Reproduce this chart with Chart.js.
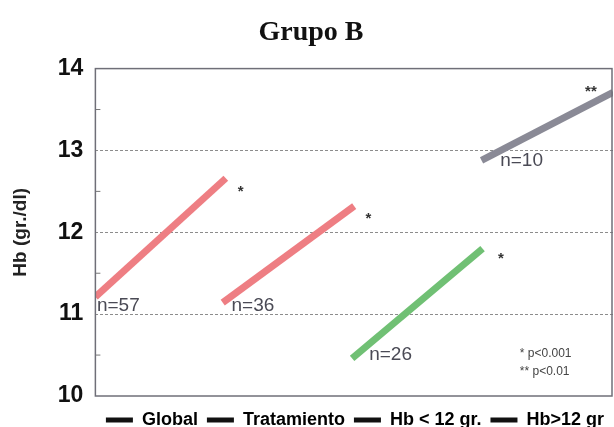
<!DOCTYPE html>
<html>
<head>
<meta charset="utf-8">
<script src="https://cdn.jsdelivr.net/npm/chart.js@4"></script>
<style>
  html, body { margin: 0; padding: 0; background: #fff; }
  #wrap { width: 614px; height: 427px; }
</style>
</head>
<body>
<div id="wrap"><canvas id="graf"></canvas></div>
<script>
// datos
const grupos = ['Global', 'Tratamiento', 'Hb < 12 gr.', 'Hb>12 gr']
const xInicio = [0, 24.6, 49.6, 74.6]
const xFin = [25.2, 50, 74.8, 100]
const hbInicio = [11.21, 11.14, 10.46, 12.88]
const hbFin = [12.66, 12.32, 11.80, 13.71]
const colores = ['#ee7e83', '#ee7e83', '#70c074', '#8a8a96']

// textos n= y asteriscos
const nTextos = ['n=57', 'n=36', 'n=26', 'n=10']
const nX = [0.3, 26.3, 52.9, 78.2]
const nY = [11.1, 11.1, 10.5, 12.87]
const astTextos = ['*', '*', '*', '**']
const astX = [27.5, 52.2, 77.8, 94.6]
const astY = [12.5, 12.17, 11.68, 13.72]
const pTextos = ['* p<0.001', '** p<0.01']
const pX = [82, 82]
const pY = [10.52, 10.3]

let ctx = document.getElementById('graf')

const datasets = grupos.map((g, i) => ({
  label: g,
  data: [{x: xInicio[i], y: hbInicio[i]}, {x: xFin[i], y: hbFin[i]}],
  borderColor: colores[i],
  backgroundColor: colores[i],
  borderWidth: 7,
  pointRadius: 0,
  borderCapStyle: 'butt'
}))

const anotaciones = {
  id: 'anotaciones',
  afterLayout(chart) {
    // bajar un poco la leyenda
    chart.legend.top += 6
    chart.legend.bottom += 6
  },
  afterDraw(chart) {
    const c = chart.ctx
    const xs = chart.scales.x
    const ys = chart.scales.y
    const area = chart.chartArea
    c.save()
    // medios ticks en el eje
    c.strokeStyle = '#777'
    c.lineWidth = 1
    for (let v = 10.5; v < 14; v += 1) {
      const py = ys.getPixelForValue(v)
      c.beginPath()
      c.moveTo(area.left, py)
      c.lineTo(area.left + 5, py)
      c.stroke()
    }
    // marco
    c.strokeStyle = '#6f6f78'
    c.lineWidth = 1.5
    c.strokeRect(area.left, area.top, area.right - area.left - 1, area.bottom - area.top)

    c.textBaseline = 'middle'
    c.textAlign = 'left'
    c.fillStyle = '#4a4a55'
    c.font = '19px "Liberation Sans", Arial, sans-serif'
    nTextos.forEach((t, i) => {
      c.fillText(t, xs.getPixelForValue(nX[i]), ys.getPixelForValue(nY[i]))
    })
    c.fillStyle = '#333'
    c.font = 'bold 15px "Liberation Sans", Arial, sans-serif'
    astTextos.forEach((t, i) => {
      c.fillText(t, xs.getPixelForValue(astX[i]), ys.getPixelForValue(astY[i]))
    })
    c.fillStyle = '#444'
    c.font = '12px "Liberation Sans", Arial, sans-serif'
    pTextos.forEach((t, i) => {
      c.fillText(t, xs.getPixelForValue(pX[i]), ys.getPixelForValue(pY[i]))
    })
    c.restore()
  }
}

let grafico = new Chart(ctx, {
  type: 'line',
  data: { datasets: datasets },
  plugins: [anotaciones],
  options: {
    responsive: true,
    maintainAspectRatio: false,
    animation: false,
    layout: { padding: { left: 9, right: 1, top: 0, bottom: 0 } },
    plugins: {
      title: {
        display: true,
        text: 'Grupo B',
        color: '#111',
        font: { family: '"Liberation Serif", "Times New Roman", serif', size: 28, weight: 'bold' },
        padding: { top: 16, bottom: 19 }
      },
      legend: {
        position: 'bottom',
        align: 'end',
        maxHeight: 31,
        labels: {
          color: '#222',
          boxWidth: 27,
          boxHeight: 5,
          padding: 9,
          font: { family: '"Liberation Sans", Arial, sans-serif', size: 18, weight: 'bold' },
          generateLabels: (chart) => chart.data.datasets.map((d, i) => ({
            text: d.label,
            fillStyle: '#111',
            strokeStyle: '#111',
            lineWidth: 0,
            datasetIndex: i
          }))
        }
      },
      tooltip: { enabled: false }
    },
    scales: {
      x: {
        type: 'linear',
        min: 0,
        max: 100,
        display: false
      },
      y: {
        min: 10,
        max: 14,
        ticks: {
          stepSize: 1,
          padding: 12,
          color: '#111',
          font: { family: '"Liberation Sans", Arial, sans-serif', size: 23, weight: 'bold' }
        },
        border: { display: false, dash: [3, 2] },
        grid: {
          drawTicks: false,
          color: (c) => (c.tick && (c.tick.value === 10 || c.tick.value === 14)) ? 'rgba(0,0,0,0)' : '#8c8c8c',
          lineWidth: 1
        },
        title: {
          display: true,
          text: 'Hb (gr./dl)',
          color: '#222',
          padding: { top: 0, bottom: 14 },
          font: { family: '"Liberation Sans", Arial, sans-serif', size: 19, weight: 'bold' }
        }
      }
    }
  }
});
</script>
</body>
</html>
